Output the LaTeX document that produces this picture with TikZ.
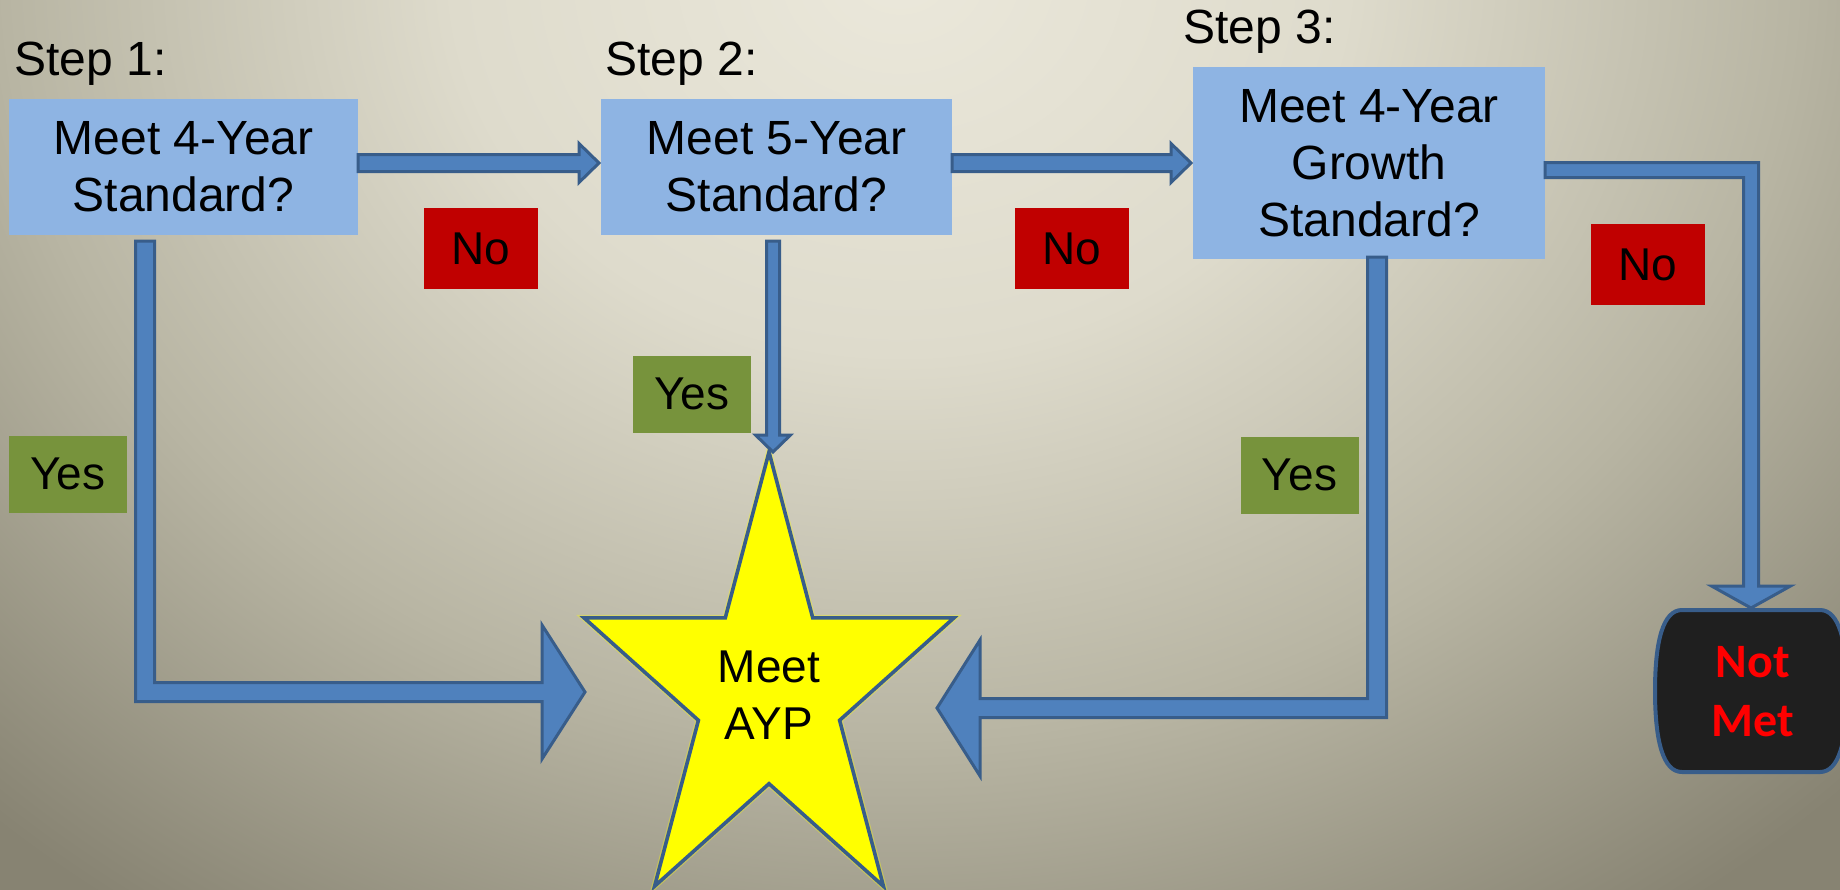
\documentclass[tikz,border=0pt]{standalone}
\usepackage{fontspec}
\setmainfont{Liberation Sans}
\newfontfamily\calibrifont{Carlito}
\usetikzlibrary{calc}
\definecolor{boxFill}{HTML}{8EB4E3}
\definecolor{arrowFill}{HTML}{4F81BD}
\definecolor{arrowLine}{HTML}{385D8A}
\definecolor{yesFill}{HTML}{77933C}
\definecolor{noFill}{HTML}{C00000}
\definecolor{starFill}{HTML}{FFFF00}
\definecolor{nmFill}{HTML}{1F1F1F}
\definecolor{nmText}{HTML}{FF0000}
\definecolor{bgA}{HTML}{EBE8DB}
\definecolor{bgB}{HTML}{DEDBCC}
\definecolor{bgC}{HTML}{B8B5A3}
\definecolor{bgD}{HTML}{878372}
\pgfdeclareradialshading{bgshade}{\pgfpoint{0bp}{0bp}}{color(0bp)=(bgA); color(5.6bp)=(bgB); color(11.2bp)=(bgC); color(16.8bp)=(bgD); color(50bp)=(bgD)}
\begin{document}
\begin{tikzpicture}[x=0.5pt,y=-0.5pt,
  txt/.style={font=\fontsize{23}{28.5}\selectfont},
  bigtxt/.style={font=\fontsize{24}{28.5}\selectfont},
  bluebox/.style={bigtxt, fill=boxFill, inner sep=0pt, outer sep=0pt, align=center},
  yesbox/.style={txt, fill=yesFill, minimum width=59pt, minimum height=38.5pt, inner sep=0pt, outer sep=0pt},
  nobox/.style={txt, fill=noFill, minimum width=57pt, minimum height=40.5pt, inner sep=0pt, outer sep=0pt},
  steplabel/.style={bigtxt, anchor=base west, inner sep=0pt},
  barrow/.style={fill=arrowFill, draw=arrowLine, line width=1.5pt, line join=miter},
  starshape/.style={fill=starFill, draw=arrowLine, line width=1.8pt, line join=miter},
  nmshape/.style={fill=nmFill, draw=arrowLine, line width=2pt},
]
\useasboundingbox (0,0) rectangle (1840,889);
\begin{scope}
  \clip (0,0) rectangle (1840,889);
  \fill[bgD] (0,0) rectangle (1840,889);
  \shade[shading=bgshade] (900,-30) ellipse (2000 and 1714);
\end{scope}

% step labels
\node[steplabel] (st1) at (14,75) {Step 1:};
\node[steplabel] (st2) at (605,75) {Step 2:};
\node[steplabel] (st3) at (1183,43) {Step 3:};

% question boxes
\node[bluebox, minimum width=174.5pt, minimum height=68pt] (b1) at (183.5,167) {Meet 4-Year\\Standard?};
\node[bluebox, minimum width=175.5pt, minimum height=68pt] (b2) at (776.5,167) {Meet 5-Year\\Standard?};
\node[bluebox, minimum width=176pt, minimum height=96pt] (b3) at (1369,163) {Meet 4-Year\\Growth\\Standard?};

% No / Yes labels
\node[nobox] (no1) at (480.5,248.5) {No};
\node[nobox] (no2) at (1072,248.5) {No};
\node[nobox] (no3) at (1648,264.5) {No};
\node[yesbox] (yes1) at (68,474) {Yes};
\node[yesbox] (yes2) at (692,394) {Yes};
\node[yesbox] (yes3) at (1299.5,475) {Yes};

% star
\coordinate (sc) at (769,692);
\draw[draw=starFill, line width=3pt, opacity=0.35, line join=miter]
  ($(sc)+(0,-240)$) -- ($(sc)+(43.7,-74.2)$) -- ($(sc)+(185,-74.2)$) -- ($(sc)+(70.6,28.3)$) --
  ($(sc)+(114.4,194.2)$) -- ($(sc)+(0,91.7)$) -- ($(sc)+(-114.4,194.2)$) -- ($(sc)+(-70.6,28.3)$) --
  ($(sc)+(-185,-74.2)$) -- ($(sc)+(-43.7,-74.2)$) -- cycle;
\filldraw[starshape]
  ($(sc)+(0,-240)$) -- ($(sc)+(43.7,-74.2)$) -- ($(sc)+(185,-74.2)$) -- ($(sc)+(70.6,28.3)$) --
  ($(sc)+(114.4,194.2)$) -- ($(sc)+(0,91.7)$) -- ($(sc)+(-114.4,194.2)$) -- ($(sc)+(-70.6,28.3)$) --
  ($(sc)+(-185,-74.2)$) -- ($(sc)+(-43.7,-74.2)$) -- cycle;
\node[txt, align=center, inner sep=0pt] (star) at ($(sc)+(0,3)$) {Meet\\AYP};

% Not Met terminal
\coordinate (nmc) at (1751,691);
\filldraw[nmshape] ($(nmc)+(-69,-81)$) -- ($(nmc)+(69,-81)$)
  .. controls ($(nmc)+(88,-81)$) and ($(nmc)+(96,-50)$) .. ($(nmc)+(96,0)$)
  .. controls ($(nmc)+(96,50)$) and ($(nmc)+(88,81)$) .. ($(nmc)+(69,81)$)
  -- ($(nmc)+(-69,81)$)
  .. controls ($(nmc)+(-88,81)$) and ($(nmc)+(-96,50)$) .. ($(nmc)+(-96,0)$)
  .. controls ($(nmc)+(-96,-50)$) and ($(nmc)+(-88,-81)$) .. cycle;
\node[font=\calibrifont\bfseries\fontsize{24}{29.5}\selectfont, text=nmText, align=center, inner sep=0pt] (nm) at ($(nmc)+(2,1)$) {Not\\Met};
\coordinate (nmtop) at ($(nmc)+(0,-81)$);

% arrow 1 -> 2
\coordinate (a12s) at ($(b1.east)+(0,-4)$);
\coordinate (a12e) at ($(b2.west)+(0,-4)$);
\filldraw[barrow] ($(a12s)+(0,-8.5)$) -- ($(a12e)+(-22,-8.5)$) -- ($(a12e)+(-22,-19.5)$) -- ($(a12e)+(-2,0)$)
  -- ($(a12e)+(-22,19.5)$) -- ($(a12e)+(-22,8.5)$) -- ($(a12s)+(0,8.5)$) -- cycle;

% arrow 2 -> 3
\coordinate (a23s) at ($(b2.east)+(0,-4)$);
\coordinate (a23e) at (b3.west);
\filldraw[barrow] ($(a23s)+(0,-8.5)$) -- ($(a23e)+(-22,-8.5)$) -- ($(a23e)+(-22,-19.5)$) -- ($(a23e)+(-2,0)$)
  -- ($(a23e)+(-22,19.5)$) -- ($(a23e)+(-22,8.5)$) -- ($(a23s)+(0,8.5)$) -- cycle;

% arrow 3 -> Not Met
\coordinate (a3s) at ($(b3.east)+(0,7)$);
\coordinate (a3c) at (nmtop |- a3s);
\filldraw[barrow] ($(a3s)+(0,-7.5)$) -- ($(a3c)+(7.5,-7.5)$) -- ($(nmtop)+(7.5,-24)$) -- ($(nmtop)+(39.5,-24)$)
  -- ($(nmtop)+(0,-2)$) -- ($(nmtop)+(-39.5,-24)$) -- ($(nmtop)+(-7.5,-24)$) -- ($(a3c)+(-7.5,7.5)$)
  -- ($(a3s)+(0,7.5)$) -- cycle;

% step 2 yes arrow
\coordinate (y2t) at ($(sc)+(4,-239)$);
\coordinate (y2s) at ($(y2t |- b2.south)+(0,6)$);
\filldraw[barrow] ($(y2s)+(-6.5,0)$) -- ($(y2t)+(-6.5,-18)$) -- ($(y2t)+(-17.5,-18)$) -- ($(y2t)+(0,-1)$)
  -- ($(y2t)+(17.5,-18)$) -- ($(y2t)+(6.5,-18)$) -- ($(y2s)+(6.5,0)$) -- cycle;

% step 1 yes arrow
\coordinate (y1t) at ($(sc)+(-182,0)$);
\coordinate (y1s) at ($(b1.south west)+(136,6)$);
\coordinate (y1c) at (y1s |- y1t);
\filldraw[barrow] ($(y1s)+(-9.5,0)$) -- ($(y1c)+(-9.5,9.5)$) -- ($(y1t)+(-45,9.5)$) -- ($(y1t)+(-45,67)$)
  -- ($(y1t)+(-2,0)$) -- ($(y1t)+(-45,-67)$) -- ($(y1t)+(-45,-9.5)$) -- ($(y1c)+(9.5,-9.5)$)
  -- ($(y1s)+(9.5,0)$) -- cycle;

% step 3 yes arrow
\coordinate (y3t) at ($(sc)+(166,16)$);
\coordinate (y3s) at ($(b3.south)+(8,-2)$);
\coordinate (y3c) at (y3s |- y3t);
\filldraw[barrow] ($(y3s)+(9.5,0)$) -- ($(y3c)+(9.5,9.5)$) -- ($(y3t)+(45,9.5)$) -- ($(y3t)+(45,68)$)
  -- ($(y3t)+(2,0)$) -- ($(y3t)+(45,-68)$) -- ($(y3t)+(45,-9.5)$) -- ($(y3c)+(-9.5,-9.5)$)
  -- ($(y3s)+(-9.5,0)$) -- cycle;
\end{tikzpicture}
\end{document}
